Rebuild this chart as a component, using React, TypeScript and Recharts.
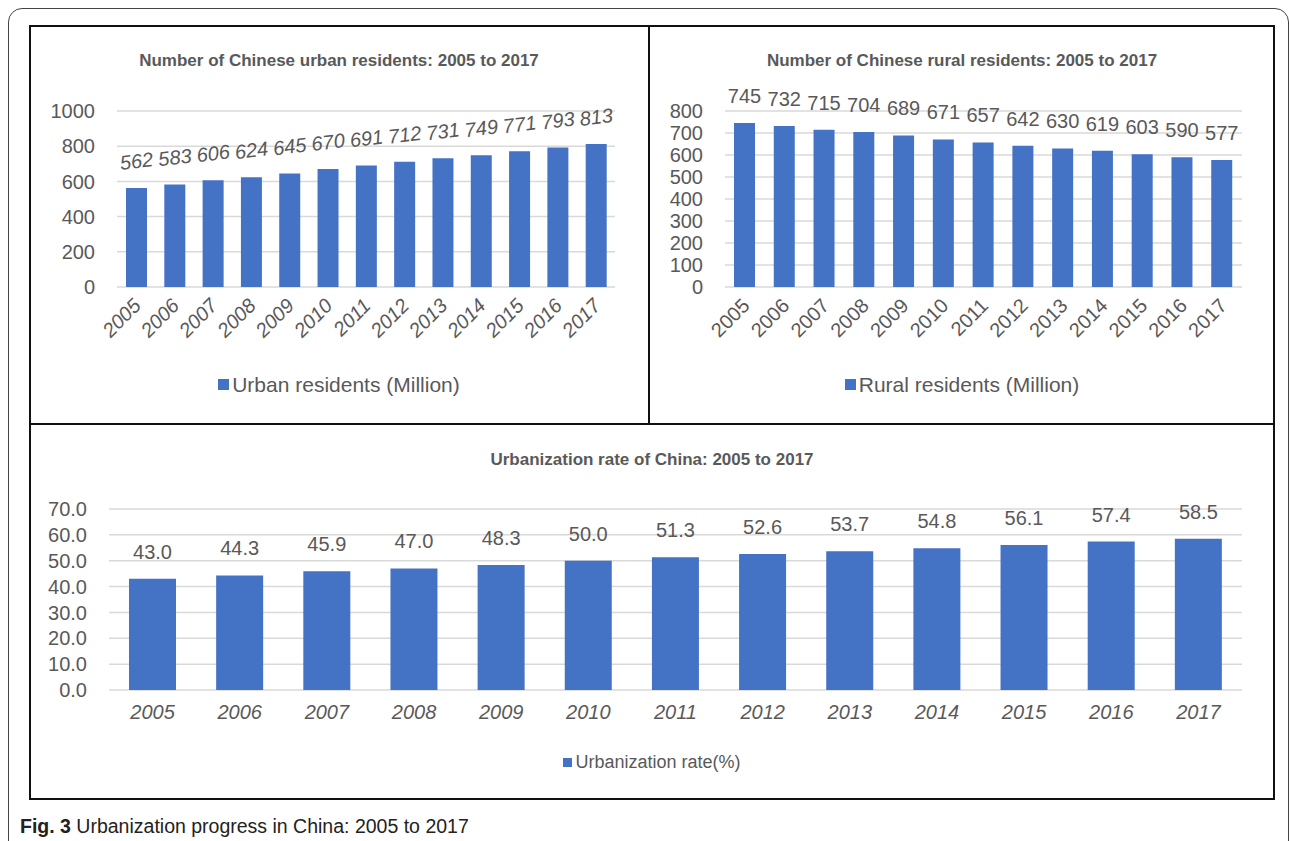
import React from 'react'
import { Bar, BarChart, CartesianGrid, LabelList, XAxis, YAxis } from 'recharts'

const YEARS = ['2005', '2006', '2007', '2008', '2009', '2010', '2011', '2012', '2013', '2014', '2015', '2016', '2017']
const URBAN = [562, 583, 606, 624, 645, 670, 691, 712, 731, 749, 771, 793, 813]
const RURAL = [745, 732, 715, 704, 689, 671, 657, 642, 630, 619, 603, 590, 577]
const RATE = [43.0, 44.3, 45.9, 47.0, 48.3, 50.0, 51.3, 52.6, 53.7, 54.8, 56.1, 57.4, 58.5]

const URBAN_TICKS = [0, 200, 400, 600, 800, 1000]
const RURAL_TICKS = [0, 100, 200, 300, 400, 500, 600, 700, 800]
const RATE_TICKS = [0, 10, 20, 30, 40, 50, 60, 70]

const BLUE = '#4472C4'
const GRID = '#D9D9D9'
const TEXT = '#595959'
const FONT = "'Liberation Sans', Arial, sans-serif"

const urbanData = YEARS.map((year, i) => ({ year, value: URBAN[i] }))
const ruralData = YEARS.map((year, i) => ({ year, value: RURAL[i] }))
const rateData = YEARS.map((year, i) => ({ year, value: RATE[i] }))

// rotated year labels under the two top charts
function SlantTick(props: any) {
  const { x, y, payload, italic } = props
  const ax = Number(x) + 1
  const ay = Number(y) + 13
  return (
    <text
      x={ax}
      y={ay}
      dy="0.35em"
      textAnchor="end"
      transform={`rotate(-45, ${ax}, ${ay})`}
      fontSize={20}
      fill={TEXT}
      fontFamily={FONT}
      fontStyle={italic ? 'italic' : 'normal'}
    >
      {payload.value}
    </text>
  )
}

function makeLabel(opts: { italic?: boolean; rotate?: number; digits?: number }) {
  return (props: any) => {
    const { x, y, width, value } = props
    const cx = Number(x) + Number(width) / 2
    const cy = Number(y) - 27
    const txt = opts.digits != null ? Number(value).toFixed(opts.digits) : String(value)
    return (
      <text
        x={cx}
        y={cy}
        dy="0.35em"
        textAnchor="middle"
        fontSize={20}
        fill={TEXT}
        fontFamily={FONT}
        fontStyle={opts.italic ? 'italic' : 'normal'}
        transform={opts.rotate ? `rotate(${opts.rotate}, ${cx}, ${cy})` : undefined}
      >
        {txt}
      </text>
    )
  }
}

const titleStyle: React.CSSProperties = {
  position: 'absolute',
  left: 0,
  right: 0,
  textAlign: 'center',
  fontFamily: FONT,
  fontWeight: 700,
  fontSize: 17,
  color: TEXT,
  lineHeight: '20px',
}

function LegendRow({ label, top, size, box }: { label: string; top: number; size: number; box: number }) {
  return (
    <div
      style={{
        position: 'absolute',
        left: 0,
        right: 0,
        top,
        display: 'flex',
        justifyContent: 'center',
        alignItems: 'center',
        fontFamily: FONT,
        fontSize: size,
        color: TEXT,
        lineHeight: `${size + 4}px`,
      }}
    >
      <span style={{ display: 'inline-block', width: box, height: box, background: BLUE, marginRight: 3 }} />
      <span>{label}</span>
    </div>
  )
}

const panelBorder = '2px solid #111'

export default function App() {
  return (
    <div style={{ position: 'relative', width: 1290, height: 841, background: '#fff', overflow: 'hidden' }}>
      <style>{'body{margin:0}'}</style>

      {/* outer rounded frame */}
      <div
        style={{
          position: 'absolute',
          left: 8,
          top: 8,
          width: 1281,
          height: 900,
          border: '1.5px solid #444',
          borderRadius: 14,
          boxSizing: 'border-box',
        }}
      />

      {/* urban residents */}
      <div style={{ position: 'absolute', left: 29, top: 25, width: 620, height: 399 }}>
        <div style={{ ...titleStyle, top: 26 }}>Number of Chinese urban residents: 2005 to 2017</div>
        <BarChart width={620} height={399} data={urbanData} margin={{ top: 86, right: 34, bottom: 77, left: 0 }}>
          <CartesianGrid vertical={false} stroke={GRID} strokeWidth={1.5} />
          <XAxis
            dataKey="year"
            axisLine={false}
            tickLine={false}
            tickSize={0}
            height={60}
            interval={0}
            tick={(p: any) => <SlantTick {...p} italic />}
          />
          <YAxis
            domain={[0, 1000]}
            ticks={URBAN_TICKS}
            interval={0}
            width={88}
            axisLine={false}
            tickLine={false}
            tickSize={0}
            tickMargin={22}
            tick={{ fill: TEXT, fontSize: 20, fontFamily: FONT }}
          />
          <Bar dataKey="value" fill={BLUE} barSize={21} isAnimationActive={false}>
            <LabelList dataKey="value" content={makeLabel({ italic: true, rotate: -7 })} />
          </Bar>
        </BarChart>
        <LegendRow label="Urban residents (Million)" top={347} size={21} box={11} />
      </div>

      {/* rural residents */}
      <div style={{ position: 'absolute', left: 649, top: 25, width: 626, height: 399 }}>
        <div style={{ ...titleStyle, top: 26 }}>Number of Chinese rural residents: 2005 to 2017</div>
        <BarChart width={626} height={399} data={ruralData} margin={{ top: 86, right: 33, bottom: 77, left: 0 }}>
          <CartesianGrid vertical={false} stroke={GRID} strokeWidth={1.5} />
          <XAxis
            dataKey="year"
            axisLine={false}
            tickLine={false}
            tickSize={0}
            height={60}
            interval={0}
            tick={(p: any) => <SlantTick {...p} />}
          />
          <YAxis
            domain={[0, 800]}
            ticks={RURAL_TICKS}
            interval={0}
            width={76}
            axisLine={false}
            tickLine={false}
            tickSize={0}
            tickMargin={22}
            tick={{ fill: TEXT, fontSize: 20, fontFamily: FONT }}
          />
          <Bar dataKey="value" fill={BLUE} barSize={21} isAnimationActive={false}>
            <LabelList dataKey="value" content={makeLabel({})} />
          </Bar>
        </BarChart>
        <LegendRow label="Rural residents (Million)" top={347} size={21} box={11} />
      </div>

      {/* urbanization rate */}
      <div style={{ position: 'absolute', left: 29, top: 424, width: 1246, height: 376 }}>
        <div style={{ ...titleStyle, top: 26 }}>Urbanization rate of China: 2005 to 2017</div>
        <BarChart width={1246} height={376} data={rateData} margin={{ top: 85, right: 33, bottom: 70, left: 0 }}>
          <CartesianGrid vertical={false} stroke={GRID} strokeWidth={1.5} />
          <XAxis
            dataKey="year"
            axisLine={false}
            tickLine={false}
            tickSize={0}
            tickMargin={15}
            height={40}
            interval={0}
            tick={{ fill: TEXT, fontSize: 20, fontFamily: FONT, fontStyle: 'italic' }}
          />
          <YAxis
            domain={[0, 70]}
            ticks={RATE_TICKS}
            interval={0}
            width={80}
            axisLine={false}
            tickLine={false}
            tickSize={0}
            tickMargin={22}
            tickFormatter={(v: number) => v.toFixed(1)}
            tick={{ fill: TEXT, fontSize: 20, fontFamily: FONT }}
          />
          <Bar dataKey="value" fill={BLUE} barSize={47} isAnimationActive={false}>
            <LabelList dataKey="value" content={makeLabel({ digits: 1 })} />
          </Bar>
        </BarChart>
        <LegendRow label="Urbanization rate(%)" top={327} size={18} box={9} />
      </div>

      {/* panel frames */}
      <div style={{ position: 'absolute', left: 29, top: 25, width: 1246, height: 775, border: panelBorder, boxSizing: 'border-box' }} />
      <div style={{ position: 'absolute', left: 648, top: 25, width: 2, height: 400, background: '#111' }} />
      <div style={{ position: 'absolute', left: 29, top: 423, width: 1246, height: 2, background: '#111' }} />

      <div
        style={{
          position: 'absolute',
          left: 20,
          top: 815,
          fontFamily: FONT,
          fontSize: 19.5,
          color: '#222',
          lineHeight: '22px',
        }}
      >
        <b>Fig. 3</b> Urbanization progress in China: 2005 to 2017
      </div>
    </div>
  )
}
